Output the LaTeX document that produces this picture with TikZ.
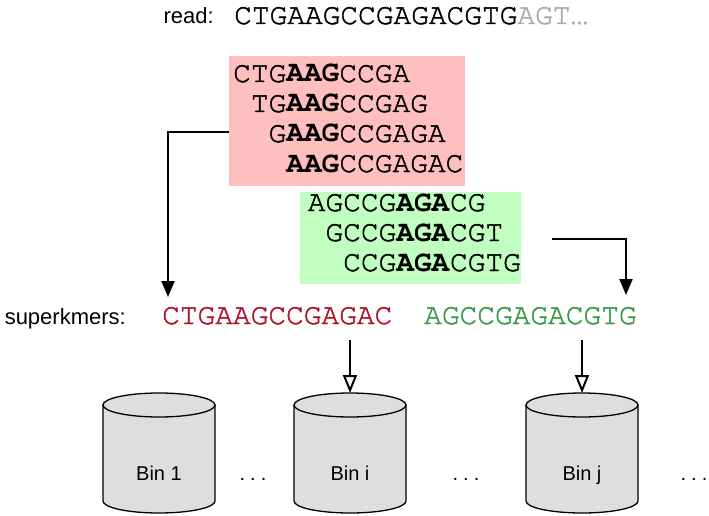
\documentclass[tikz,border=0pt]{standalone}
\usepackage{fontspec}
\setmainfont{Liberation Sans}
\newfontfamily\seqfont{texgyrecursor}[Extension=.otf, UprightFont=*-regular, BoldFont=*-bold, UprightFeatures={FakeBold=1.6}]
\usetikzlibrary{arrows.meta, positioning}

\definecolor{kmerpink}{RGB}{255,191,191}
\definecolor{kmergreen}{RGB}{193,255,193}
\definecolor{superred}{RGB}{176,18,42}
\definecolor{supergreen}{RGB}{62,154,72}
\definecolor{bingray}{RGB}{222,222,222}
\definecolor{tailgray}{RGB}{170,170,170}

\begin{document}
\begin{tikzpicture}[x=1pt, y=-1pt,
    seq/.style={font=\seqfont\fontsize{29.5}{30}\selectfont, inner sep=0pt, anchor=base west},
    lbl/.style={font=\fontsize{22}{26}\selectfont, inner sep=0pt, anchor=base east},
    binlbl/.style={font=\fontsize{20}{24}\selectfont, inner sep=0pt, anchor=base},
    feed/.style={-{Triangle[length=16pt, width=13pt]}, line width=2pt},
    tobin/.style={-{Triangle[open, length=18pt, width=14pt]}, line width=2pt},
    bincyl/.style={fill=bingray, draw=black, line width=1.3pt}]
    \fill[white] (0,0) rectangle (709,516);
    \useasboundingbox (0,0) rectangle (709,516);
    \def\cw{17.7}

    % Read
    \node[lbl] (readlbl) at (214,24) {read:};
    \node[seq] (read) at (234,24) {CTGAAGCCGAGACGTG\textcolor{tailgray}{AGT…}};

    % k-mers with minimizer AAG
    \node[fill=kmerpink, minimum width=236pt, minimum height=130pt, inner sep=0pt] (pinkbox) at (347,121) {};
    \node[seq] (a1) at (233,82) {CTG\textbf{AAG}CCGA};
    \node[seq] (a2) at (233+\cw,112) {TG\textbf{AAG}CCGAG};
    \node[seq] (a3) at (233+2*\cw,142) {G\textbf{AAG}CCGAGA};
    \node[seq] (a4) at (233+3*\cw,172) {\textbf{AAG}CCGAGAC};

    % k-mers with minimizer AGA
    \node[fill=kmergreen, minimum width=221pt, minimum height=92pt, inner sep=0pt] (greenbox) at (410.5,238) {};
    \node[seq] (g1) at (307.6,211) {AGCCG\textbf{AGA}CG};
    \node[seq] (g2) at (307.6+\cw,241) {GCCG\textbf{AGA}CGT};
    \node[seq] (g3) at (307.6+2*\cw,271) {CCG\textbf{AGA}CGTG};

    % Superkmers
    \node[lbl] (superlbl) at (126,324) {superkmers:};
    \node[seq, text=superred] (red) at (162,324) {CTGAAGCCGAGAC};
    \node[seq, text=supergreen] (green) at (424,324) {AGCCGAGACGTG};

    \coordinate (redin) at (168,297);
    \coordinate (greenfrom) at (552,239);
    \coordinate (greenin) at (626,295);
    \draw[feed] ([yshift=-11pt]pinkbox.west) -| (redin);
    \draw[feed] (greenfrom) -| (greenin);

    % Bins
    \foreach \cx/\name/\txt in {159/bin1/Bin 1, 350/bini/Bin i, 582/binj/Bin j} {
        \filldraw[bincyl] (\cx-56,405) -- (\cx-56,501)
            arc[start angle=180, end angle=0, x radius=56, y radius=12]
            -- (\cx+56,405) -- cycle;
        \filldraw[bincyl] (\cx,405) ellipse[x radius=56, y radius=12];
        \node[binlbl] (\name) at (\cx,480) {\txt};
        \coordinate (top\name) at (\cx,393);
    }
    \node[binlbl] (gap1) at (253,480) {.\hspace{5pt}.\hspace{5pt}.};
    \node[binlbl] (gap2) at (466,480) {.\hspace{5pt}.\hspace{5pt}.};
    \node[binlbl] (gap3) at (694,480) {.\hspace{5pt}.\hspace{5pt}.};

    \coordinate (redout) at (350,340);
    \coordinate (greenout) at (582,340);
    \draw[tobin] (redout) -- (topbini);
    \draw[tobin] (greenout) -- (topbinj);
\end{tikzpicture}
\end{document}
